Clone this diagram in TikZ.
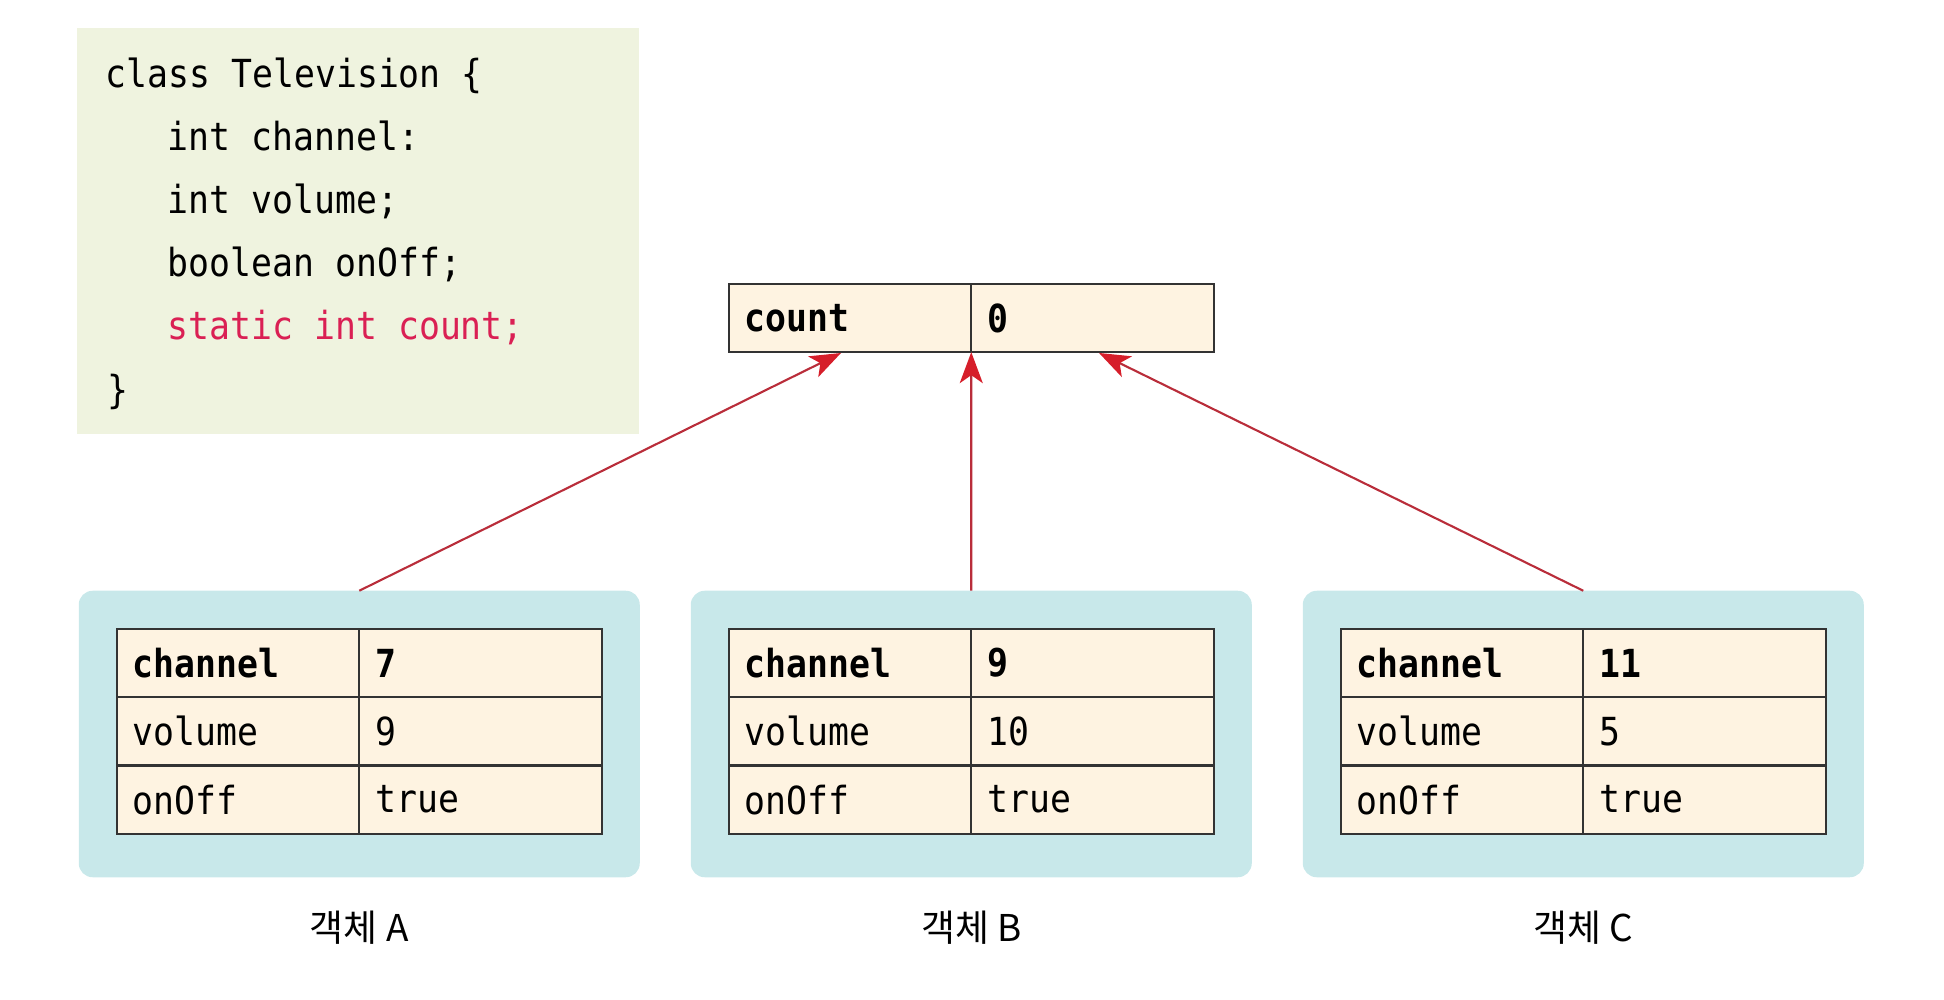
\documentclass[tikz,border=0pt]{standalone}
\usepackage{fontspec}
\setmainfont{Noto Sans CJK KR}
\setmonofont[FakeStretch=0.9]{DejaVu Sans Mono}
\usetikzlibrary{arrows.meta}

\definecolor{codebg}{RGB}{239,243,223}
\definecolor{cellbg}{RGB}{254,243,225}
\definecolor{objbg}{RGB}{200,232,234}
\definecolor{statred}{RGB}{218,32,84}
\definecolor{arrred}{RGB}{185,45,58}
\definecolor{headred}{RGB}{214,30,42}

\begin{document}
\begin{tikzpicture}[
  cell/.style={draw=black!80, line width=0.6pt, fill=cellbg, minimum height=0.683cm, text width=2.105cm, inner xsep=0.16cm, outer sep=0, align=left, font=\ttfamily\fontsize{11}{13}\selectfont},
  objbox/.style={fill=objbg, rounded corners=0.14cm, minimum width=5.61cm, minimum height=2.865cm, inner sep=0, outer sep=0},
  codeline/.style={anchor=mid west, inner sep=0, font=\ttfamily\fontsize{11}{13}\selectfont},
  objlabel/.style={font=\fontsize{10.5}{12}\selectfont},
  ref/.style={->, line width=0.6pt, arrred, >={Stealth[length=3.1mm, width=2.3mm, inset=0.8mm, color=headred]}}
]
\useasboundingbox (0,0) rectangle (19.44,-10);
% Class code
\node[fill=codebg, minimum width=5.62cm, minimum height=4.055cm, inner sep=0] (code) at (3.58,-2.3125) {};
\node[codeline] (c1) at (1.05,-0.78) {class Television \{};
\node[codeline] (c2) at (1.67,-1.41) {int channel:};
\node[codeline] (c3) at (1.67,-2.04) {int volume;};
\node[codeline] (c4) at (1.67,-2.67) {boolean onOff;};
\node[codeline, text=statred] (c5) at (1.67,-3.30) {static int count;};
\node[codeline] (c6) at (1.07,-3.94) {\}};
% Static field
\node[cell] (cntl) at (8.50,-3.18) {\textbf{count}};
\node[cell] (cntr) at (10.925,-3.18) {\textbf{0}};
% Object boxes
\node[objbox] (oa) at (3.5925,-7.34) {};
\node[objbox] (ob) at (9.7125,-7.34) {};
\node[objbox] (oc) at (15.8325,-7.34) {};
% Object A
\node[cell] (a1l) at (2.38,-6.63) {\textbf{channel}};
\node[cell] (a1r) at (4.805,-6.63) {\textbf{7}};
\node[cell] (a2l) at (2.38,-7.313) {volume};
\node[cell] (a2r) at (4.805,-7.313) {9};
\node[cell] (a3l) at (2.38,-7.996) {onOff};
\node[cell] (a3r) at (4.805,-7.996) {true};
% Object B
\node[cell] (b1l) at (8.50,-6.63) {\textbf{channel}};
\node[cell] (b1r) at (10.925,-6.63) {\textbf{9}};
\node[cell] (b2l) at (8.50,-7.313) {volume};
\node[cell] (b2r) at (10.925,-7.313) {10};
\node[cell] (b3l) at (8.50,-7.996) {onOff};
\node[cell] (b3r) at (10.925,-7.996) {true};
% Object C
\node[cell] (c1l) at (14.62,-6.63) {\textbf{channel}};
\node[cell] (c1r) at (17.045,-6.63) {\textbf{11}};
\node[cell] (c2l) at (14.62,-7.313) {volume};
\node[cell] (c2r) at (17.045,-7.313) {5};
\node[cell] (c3l) at (14.62,-7.996) {onOff};
\node[cell] (c3r) at (17.045,-7.996) {true};
% Labels
\node[objlabel] (la) at (3.5925,-9.28) {객체 A};
\node[objlabel] (lb) at (9.7125,-9.28) {객체 B};
\node[objlabel] (lc) at (15.8325,-9.28) {객체 C};
% Arrows
\coordinate (pa) at (8.41,-3.53);
\coordinate (pc) at (10.99,-3.53);
\draw [ref] (oa.north)--(pa);
\draw [ref] (ob.north)--(cntl.south east);
\draw [ref] (oc.north)--(pc);
\end{tikzpicture}
\end{document}
